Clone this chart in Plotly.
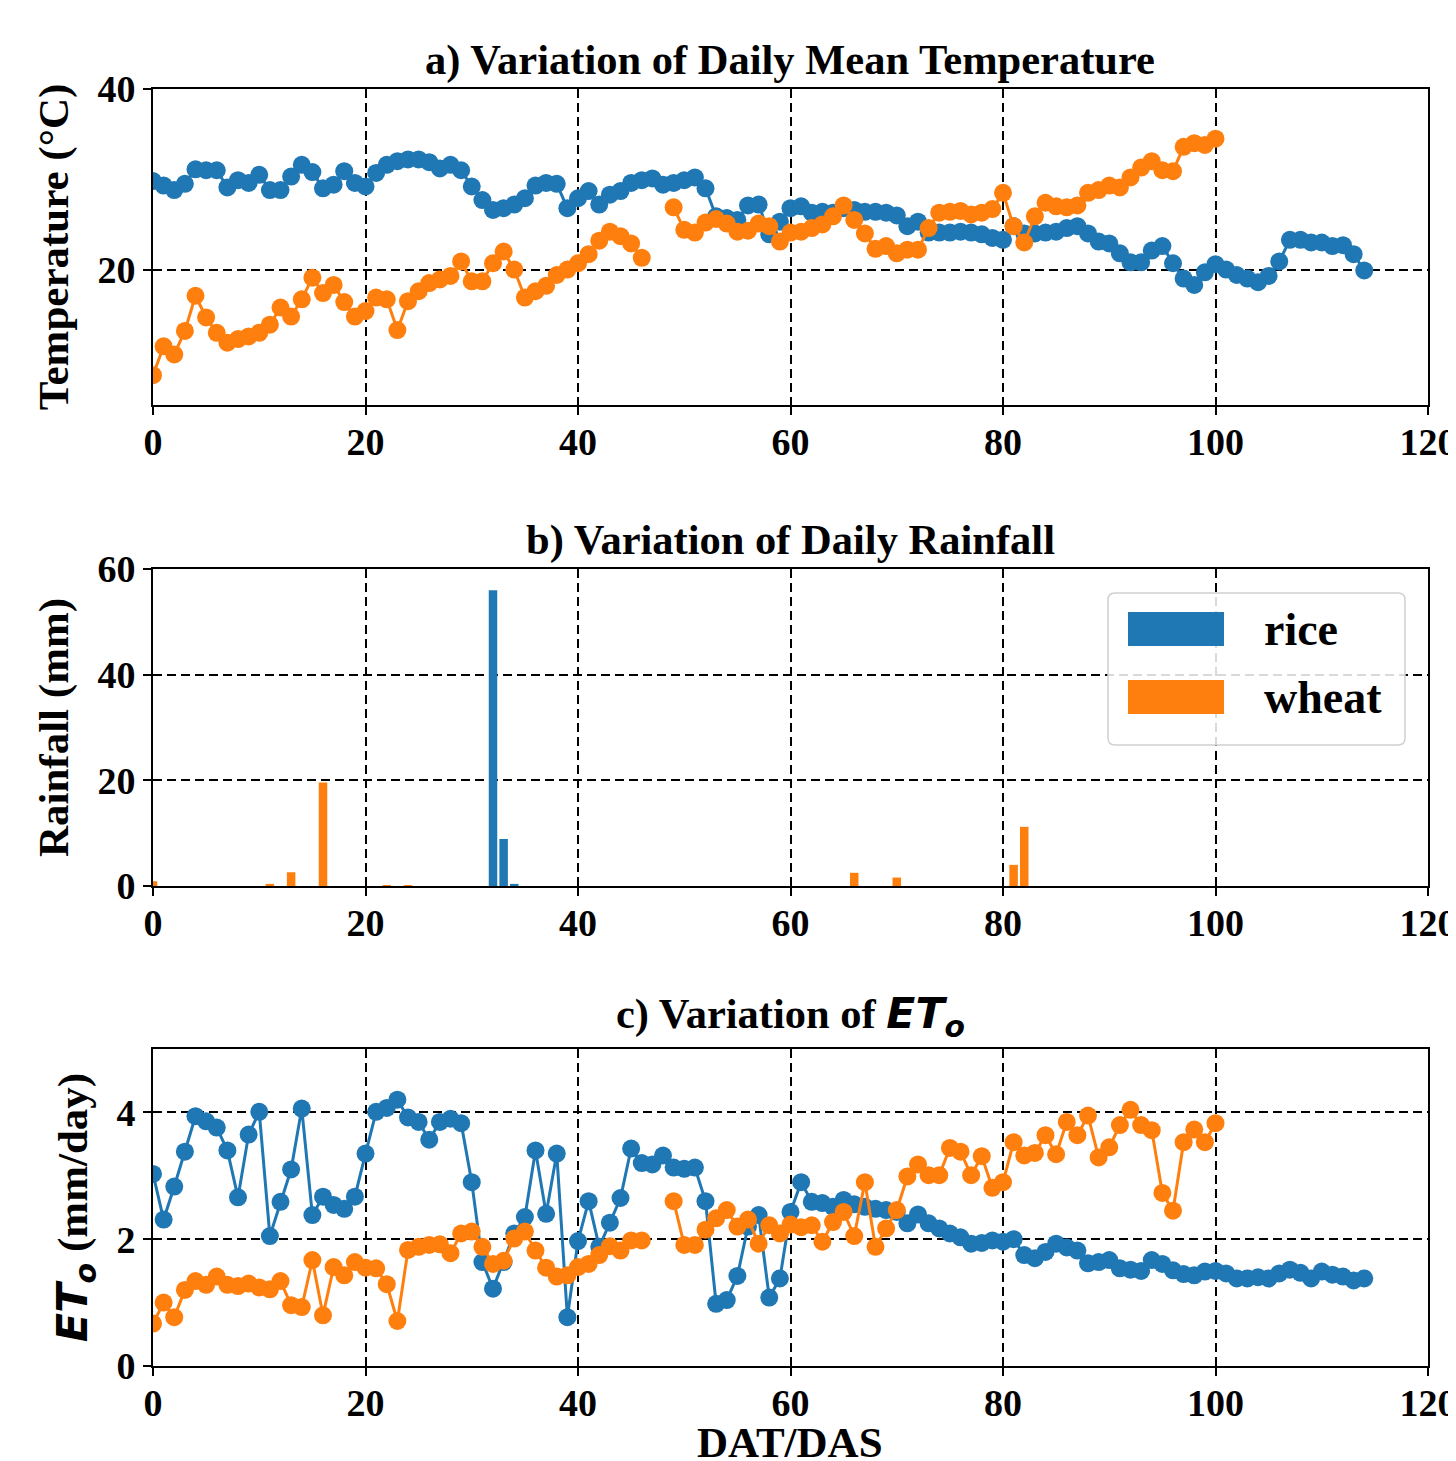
import plotly.graph_objects as go

# ---------------- data ----------------
rice_days = list(range(0, 115))
wheat_days = list(range(0, 101))

rice_temp = [29.8, 29.3, 28.8, 29.5, 31.1, 31.0, 31.0, 29.1, 29.9, 29.6, 30.5, 28.8, 28.8, 30.3, 31.6, 30.8, 29.0, 29.4, 30.9, 29.6,
             29.2, 30.7, 31.6, 32.0, 32.2, 32.2, 31.9, 31.2, 31.6, 31.0, 29.2, 27.7, 26.6, 26.8, 27.2, 27.9, 29.3, 29.6, 29.5, 26.8,
             27.9, 28.7, 27.2, 28.3, 28.7, 29.6, 29.9, 30.1, 29.4, 29.6, 29.9, 30.2, 29.0, 25.9, 25.7, 25.5, 27.1, 27.2, 23.9, 25.3,
             26.8, 27.0, 26.3, 26.4, 26.3, 26.8, 26.6, 26.4, 26.4, 26.3, 26.0, 24.8, 25.3, 24.1, 24.1, 24.1, 24.2, 24.1, 23.9, 23.5,
             23.3, 24.8, 24.0, 24.0, 24.1, 24.2, 24.6, 24.8, 24.0, 23.1, 22.9, 21.8, 20.8, 20.8, 22.1, 22.6, 20.7, 19.0, 18.3, 19.7,
             20.6, 20.0, 19.4, 19.0, 18.6, 19.3, 20.9, 23.3, 23.3, 23.0, 23.0, 22.6, 22.7, 21.7, 19.9]

wheat_temp = [8.3, 11.5, 10.6, 13.2, 17.1, 14.7, 13.0, 11.9, 12.3, 12.6, 13.0, 13.9, 15.8, 14.8, 16.7, 19.1, 17.4, 18.3, 16.4, 14.8,
              15.4, 16.9, 16.7, 13.3, 16.5, 17.6, 18.5, 18.9, 19.3, 20.9, 18.7, 18.7, 20.7, 22.0, 20.0, 16.9, 17.6, 18.2, 19.4, 20.0,
              20.7, 21.7, 23.2, 24.2, 23.7, 22.9, 21.3, None, None, 26.9, 24.4, 24.1, 25.2, 25.6, 25.1, 24.2, 24.3, 25.1, 24.8, 23.1,
              24.1, 24.2, 24.6, 25.0, 25.9, 27.1, 25.5, 24.0, 22.3, 22.6, 21.8, 22.2, 22.2, 24.6, 26.3, 26.4, 26.5, 26.1, 26.3, 26.7,
              28.5, 24.8, 23.0, 25.9, 27.4, 27.0, 26.9, 27.1, 28.5, 28.8, 29.3, 29.1, 30.2, 31.3, 32.0, 31.0, 30.9, 33.6, 34.0, 33.8,
              34.5]

rice_rain_days = [32, 33, 34]
rice_rain = [56.0, 8.9, 0.4]
wheat_rain_days = [0, 11, 13, 16, 22, 24, 66, 70, 81, 82]
wheat_rain = [0.9, 0.4, 2.6, 19.6, 0.1, 0.1, 2.5, 1.6, 4.0, 11.2]

rice_et = [3.03, 2.31, 2.83, 3.38, 3.94, 3.86, 3.76, 3.40, 2.66, 3.65, 4.01, 2.05, 2.59, 3.10, 4.06, 2.38, 2.67, 2.54, 2.48, 2.67,
           3.35, 4.01, 4.07, 4.20, 3.92, 3.85, 3.57, 3.85, 3.90, 3.83, 2.90, 1.64, 1.22, 1.64, 2.09, 2.35, 3.40, 2.40, 3.35, 0.77,
           1.97, 2.60, 1.88, 2.26, 2.65, 3.43, 3.20, 3.18, 3.32, 3.13, 3.11, 3.13, 2.60, 0.98, 1.04, 1.42, 2.20, 2.38, 1.08, 1.38,
           2.43, 2.90, 2.59, 2.57, 2.51, 2.62, 2.55, 2.51, 2.48, 2.46, 2.43, 2.25, 2.39, 2.25, 2.17, 2.09, 2.03, 1.93, 1.94, 1.98,
           1.96, 2.00, 1.75, 1.70, 1.80, 1.93, 1.87, 1.82, 1.62, 1.64, 1.67, 1.54, 1.52, 1.50, 1.67, 1.61, 1.51, 1.45, 1.43, 1.49,
           1.50, 1.46, 1.38, 1.38, 1.40, 1.38, 1.46, 1.52, 1.47, 1.38, 1.49, 1.44, 1.41, 1.35, 1.38]

wheat_et = [0.67, 1.00, 0.77, 1.20, 1.34, 1.28, 1.41, 1.28, 1.26, 1.30, 1.24, 1.21, 1.34, 0.96, 0.93, 1.67, 0.80, 1.56, 1.43, 1.64,
            1.55, 1.54, 1.29, 0.71, 1.83, 1.88, 1.91, 1.92, 1.78, 2.09, 2.12, 1.88, 1.61, 1.66, 2.01, 2.12, 1.82, 1.55, 1.41, 1.43,
            1.56, 1.61, 1.75, 1.89, 1.82, 1.98, 1.98, None, None, 2.60, 1.91, 1.91, 2.15, 2.33, 2.46, 2.20, 2.31, 1.93, 2.22, 2.09,
            2.23, 2.19, 2.22, 1.96, 2.27, 2.43, 2.05, 2.90, 1.88, 2.17, 2.46, 2.99, 3.18, 3.01, 3.01, 3.44, 3.38, 3.01, 3.31, 2.81,
            2.90, 3.53, 3.32, 3.36, 3.64, 3.34, 3.85, 3.64, 3.95, 3.29, 3.45, 3.80, 4.04, 3.80, 3.72, 2.73, 2.45, 3.53, 3.73, 3.53,
            3.83]

x_ticks = [0, 20, 40, 60, 80, 100, 120]
temp_ticks = [20, 40]
rain_ticks = [0, 20, 40, 60]
et_ticks = [0, 2, 4]

# ---------------- style ----------------
OFF = 8                      # page body margin of the html page
W, H = 1456 - OFF, 1461 - OFF
RICE = "#1f77b4"
WHEAT = "#ff7f0e"
SERIF = "Liberation Serif, Times New Roman, serif"
SANS = "DejaVu Sans"
TICK_SIZE = 38
LABEL_SIZE = 43
TITLE_SIZE = 42.5

def px_x(p):
    return (p - OFF) / W

def px_y(p):
    return 1 - (p - OFF) / H

x_dom = [px_x(153), px_x(1428)]
doms = {
    1: [px_y(405), px_y(89)],
    2: [px_y(886), px_y(569)],
    3: [px_y(1366), px_y(1049)],
}

fig = go.Figure()

line_kw = dict(mode="lines+markers", marker=dict(size=18), line=dict(width=3), connectgaps=False, showlegend=False)

# a) temperature
fig.add_trace(go.Scatter(x=rice_days, y=rice_temp, name="rice", xaxis="x", yaxis="y",
                         marker_color=RICE, line_color=RICE, **line_kw))
fig.add_trace(go.Scatter(x=wheat_days, y=wheat_temp, name="wheat", xaxis="x", yaxis="y",
                         marker_color=WHEAT, line_color=WHEAT, **line_kw))
# b) rainfall
fig.add_trace(go.Bar(x=rice_rain_days, y=rice_rain, name="rice", width=0.8, marker_color=RICE,
                     marker_line_width=0, xaxis="x2", yaxis="y2", showlegend=False))
fig.add_trace(go.Bar(x=wheat_rain_days, y=wheat_rain, name="wheat", width=0.8, marker_color=WHEAT,
                     marker_line_width=0, xaxis="x2", yaxis="y2", showlegend=False))
# c) ETo
fig.add_trace(go.Scatter(x=rice_days, y=rice_et, name="rice", xaxis="x3", yaxis="y3",
                         marker_color=RICE, line_color=RICE, **line_kw))
fig.add_trace(go.Scatter(x=wheat_days, y=wheat_et, name="wheat", xaxis="x3", yaxis="y3",
                         marker_color=WHEAT, line_color=WHEAT, **line_kw))

axis_common = dict(
    showline=True, mirror=True, linecolor="black", linewidth=2,
    ticks="outside", ticklen=8, tickwidth=2, tickcolor="black",
    showgrid=True, gridcolor="black", gridwidth=2, griddash="9px,5px",
    zeroline=False, automargin=False, ticklabeloverflow="allow",
    tickfont=dict(family=SERIF, size=TICK_SIZE, color="black", weight="bold"),
)

ETO = f"<span style='font-family:{SANS}'><b><i>ET<sub>o</sub></i></b></span>"

layout_axes = {}
for i in (1, 2, 3):
    xa = "xaxis" if i == 1 else f"xaxis{i}"
    ya = "yaxis" if i == 1 else f"yaxis{i}"
    layout_axes[xa] = dict(axis_common, domain=x_dom, range=[0, 120], tickvals=x_ticks,
                           ticklabelstandoff=-6, anchor="y" if i == 1 else f"y{i}")
    layout_axes[ya] = dict(axis_common, domain=doms[i], anchor="x" if i == 1 else f"x{i}")

ylab_font = dict(family=SERIF, size=LABEL_SIZE, color="black")
layout_axes["yaxis"].update(range=[5, 40], tickvals=temp_ticks,
                            title=dict(text="<b>Temperature (°C)</b>", font=ylab_font))
layout_axes["yaxis2"].update(range=[0, 60], tickvals=rain_ticks,
                             title=dict(text="<b>Rainfall (mm)</b>", font=ylab_font))
layout_axes["yaxis3"].update(range=[0, 5], tickvals=et_ticks,
                             title=dict(text=ETO + "<b> (mm/day)</b>", font=ylab_font))

fig.update_layout(
    width=W, height=H,
    margin=dict(l=0, r=0, t=0, b=0),
    paper_bgcolor="white", plot_bgcolor="white",
    barmode="overlay",
    font=dict(family=SERIF, color="black"),
    **layout_axes,
)

# x-axis label at the bottom
fig.add_annotation(text="<b>DAT/DAS</b>", x=(x_dom[0] + x_dom[1]) / 2, y=px_y(1417), xref="paper", yref="paper",
                   xanchor="center", yanchor="top", showarrow=False,
                   font=dict(family=SERIF, size=LABEL_SIZE, color="black"))

# panel titles
titles = [
    ("<b>a) Variation of Daily Mean Temperature</b>", 89),
    ("<b>b) Variation of Daily Rainfall</b>", 569),
    ("<b>c) Variation of </b>" + ETO, 1049),
]
for text, top in titles:
    fig.add_annotation(text=text, x=(x_dom[0] + x_dom[1]) / 2, y=px_y(top - 3), xref="paper", yref="paper",
                       xanchor="center", yanchor="bottom", showarrow=False,
                       font=dict(family=SERIF, size=TITLE_SIZE, color="black"))

# legend (panel b), rounded box
def rounded_rect(x0, y0, x1, y1, r):
    X = px_x
    Y = px_y
    return (f"M {X(x0 + r)} {Y(y0)} L {X(x1 - r)} {Y(y0)} Q {X(x1)} {Y(y0)} {X(x1)} {Y(y0 + r)} "
            f"L {X(x1)} {Y(y1 - r)} Q {X(x1)} {Y(y1)} {X(x1 - r)} {Y(y1)} "
            f"L {X(x0 + r)} {Y(y1)} Q {X(x0)} {Y(y1)} {X(x0)} {Y(y1 - r)} "
            f"L {X(x0)} {Y(y0 + r)} Q {X(x0)} {Y(y0)} {X(x0 + r)} {Y(y0)} Z")

fig.add_shape(type="path", xref="paper", yref="paper", path=rounded_rect(1108, 593, 1405, 745, 7),
              line=dict(color="#d0d0d0", width=1.5), fillcolor="rgba(255,255,255,0.85)", layer="above")
for name, color, yc in (("rice", RICE, 629), ("wheat", WHEAT, 697)):
    fig.add_shape(type="rect", xref="paper", yref="paper",
                  x0=px_x(1128), x1=px_x(1224), y0=px_y(yc + 17), y1=px_y(yc - 17),
                  line=dict(width=0), fillcolor=color, layer="above")
    fig.add_annotation(text=f"<b>{name}</b>", x=px_x(1262), y=px_y(yc), xref="paper", yref="paper",
                       xanchor="left", yanchor="middle", showarrow=False,
                       font=dict(family=SERIF, size=46, color="black"))

fig.write_html("out.html")
